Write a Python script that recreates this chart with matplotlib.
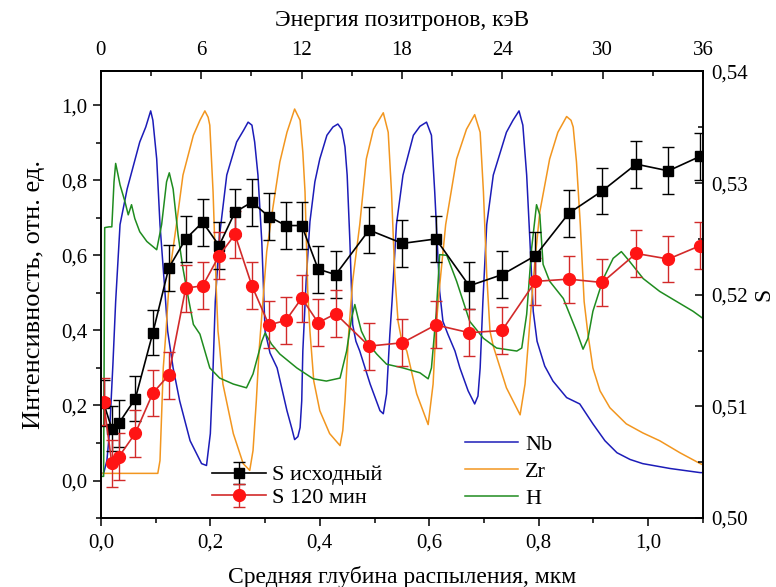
import matplotlib
matplotlib.use("Agg")
import matplotlib.pyplot as plt
from matplotlib.ticker import MultipleLocator, FixedLocator, FuncFormatter

plt.rcParams["font.family"] = ["Liberation Serif", "DejaVu Serif"]

BLUE = "#1c1cb8"
ORANGE = "#f2961f"
GREEN = "#1f8c1f"
RED = "#ff1414"
RED_LINE = "#d22a2a"

# S parameter (right axis) vs mean sputtering depth, um
depth_s = [0.005, 0.020, 0.033, 0.063, 0.095, 0.124, 0.155, 0.186, 0.216, 0.245,
           0.276, 0.307, 0.338, 0.367, 0.397, 0.429, 0.490, 0.551, 0.612, 0.673,
           0.733, 0.794, 0.855, 0.916, 0.978, 1.037, 1.095]
s_init = [0.5103, 0.5080, 0.5085, 0.5107, 0.5166, 0.5224, 0.5250, 0.5265, 0.5244, 0.5274,
          0.5283, 0.5270, 0.5262, 0.5262, 0.5223, 0.5218, 0.5258, 0.5246, 0.5250, 0.5208,
          0.5218, 0.5235, 0.5273, 0.5293, 0.5317, 0.5311, 0.5324]
err_init = [0.0021, 0.0020, 0.0021, 0.0020, 0.0020, 0.0021, 0.0021, 0.0021, 0.0021, 0.0021,
            0.0021, 0.0021, 0.0021, 0.0021, 0.0021, 0.0021, 0.0021, 0.0021, 0.0021, 0.0021,
            0.0021, 0.0021, 0.0021, 0.0021, 0.0021, 0.0021, 0.0021]
s_120 = [0.5104, 0.5049, 0.5055, 0.5076, 0.5112, 0.5128, 0.5206, 0.5208, 0.5235, 0.5254,
         0.5208, 0.5173, 0.5177, 0.5197, 0.5175, 0.5183, 0.5154, 0.5157, 0.5173, 0.5166,
         0.5168, 0.5212, 0.5214, 0.5211, 0.5237, 0.5232, 0.5244]
err_120 = [0.0021, 0.0021, 0.0021, 0.0021, 0.0021, 0.0021, 0.0021, 0.0021, 0.0021, 0.0021,
           0.0021, 0.0021, 0.0021, 0.0021, 0.0021, 0.0021, 0.0021, 0.0021, 0.0021, 0.0021,
           0.0021, 0.0021, 0.0021, 0.0021, 0.0021, 0.0021, 0.0021]

# intensity profiles (left axis)
nb_x = [0.000, 0.005, 0.011, 0.016, 0.022, 0.027, 0.035, 0.048, 0.071, 0.082, 0.091, 0.095,
        0.102, 0.108, 0.117, 0.122, 0.132, 0.144, 0.163, 0.184, 0.193, 0.200, 0.205, 0.209,
        0.217, 0.230, 0.248, 0.261, 0.269, 0.276, 0.281, 0.287, 0.294, 0.300, 0.309, 0.322,
        0.340, 0.349, 0.354, 0.360, 0.364, 0.367, 0.369, 0.375, 0.382, 0.391, 0.400, 0.413,
        0.424, 0.433, 0.440, 0.446, 0.450, 0.455, 0.460, 0.466, 0.473, 0.492, 0.510, 0.516,
        0.522, 0.528, 0.532, 0.540, 0.552, 0.571, 0.583, 0.595, 0.604, 0.610, 0.619, 0.625,
        0.634, 0.647, 0.656, 0.671, 0.683, 0.689, 0.693, 0.698, 0.705, 0.717, 0.741, 0.753,
        0.764, 0.771, 0.778, 0.784, 0.790, 0.797, 0.811, 0.826, 0.851, 0.875, 0.899, 0.921,
        0.943, 0.967, 0.990, 1.040, 1.095, 1.100]
nb_y = [0.019, 0.019, 0.053, 0.133, 0.310, 0.477, 0.682, 0.777, 0.902, 0.942, 0.985, 0.960,
        0.857, 0.682, 0.504, 0.398, 0.300, 0.212, 0.106, 0.045, 0.040, 0.125, 0.300, 0.477,
        0.655, 0.814, 0.902, 0.934, 0.955, 0.947, 0.902, 0.814, 0.637, 0.398, 0.340, 0.300,
        0.186, 0.138, 0.109, 0.117, 0.141, 0.212, 0.345, 0.531, 0.690, 0.796, 0.857, 0.920,
        0.942, 0.950, 0.936, 0.889, 0.814, 0.637, 0.416, 0.371, 0.345, 0.257, 0.186, 0.178,
        0.231, 0.390, 0.477, 0.682, 0.814, 0.920, 0.944, 0.955, 0.920, 0.769, 0.504, 0.424,
        0.390, 0.345, 0.300, 0.239, 0.204, 0.225, 0.300, 0.477, 0.682, 0.814, 0.928, 0.960,
        0.985, 0.947, 0.814, 0.637, 0.451, 0.371, 0.305, 0.265, 0.221, 0.204, 0.151, 0.106,
        0.074, 0.056, 0.045, 0.032, 0.021, 0.021]

zr_x = [0.000, 0.104, 0.108, 0.114, 0.119, 0.126, 0.138, 0.150, 0.169, 0.181, 0.190, 0.196,
        0.199, 0.205, 0.211, 0.214, 0.216, 0.223, 0.242, 0.260, 0.272, 0.278, 0.284, 0.289,
        0.296, 0.303, 0.314, 0.327, 0.340, 0.354, 0.364, 0.369, 0.373, 0.378, 0.382, 0.389,
        0.400, 0.418, 0.437, 0.442, 0.446, 0.453, 0.460, 0.473, 0.485, 0.498, 0.516, 0.525,
        0.531, 0.537, 0.543, 0.550, 0.559, 0.577, 0.598, 0.607, 0.612, 0.618, 0.630, 0.650,
        0.668, 0.683, 0.693, 0.699, 0.705, 0.711, 0.717, 0.741, 0.766, 0.775, 0.784, 0.793,
        0.802, 0.820, 0.835, 0.851, 0.859, 0.863, 0.869, 0.876, 0.883, 0.890, 0.899, 0.912,
        0.930, 0.960, 0.990, 1.021, 1.058, 1.095, 1.100]
zr_y = [0.019, 0.019, 0.053, 0.300, 0.398, 0.557, 0.682, 0.814, 0.920, 0.960, 0.985, 0.968,
        0.947, 0.769, 0.504, 0.398, 0.371, 0.257, 0.125, 0.045, 0.027, 0.080, 0.212, 0.345,
        0.477, 0.610, 0.724, 0.849, 0.928, 0.990, 0.960, 0.875, 0.769, 0.504, 0.398, 0.265,
        0.186, 0.125, 0.093, 0.133, 0.212, 0.398, 0.531, 0.682, 0.857, 0.936, 0.980, 0.928,
        0.769, 0.549, 0.424, 0.371, 0.345, 0.231, 0.149, 0.257, 0.398, 0.504, 0.682, 0.857,
        0.936, 0.975, 0.928, 0.769, 0.549, 0.398, 0.358, 0.247, 0.175, 0.257, 0.424, 0.584,
        0.716, 0.857, 0.928, 0.970, 0.960, 0.942, 0.849, 0.682, 0.477, 0.390, 0.300, 0.239,
        0.194, 0.151, 0.127, 0.106, 0.074, 0.045, 0.042]

h_x = [0.000, 0.005, 0.007, 0.015, 0.020, 0.024, 0.027, 0.031, 0.035, 0.044, 0.050, 0.056,
       0.062, 0.071, 0.084, 0.093, 0.102, 0.111, 0.120, 0.125, 0.132, 0.141, 0.150, 0.160,
       0.169, 0.181, 0.199, 0.217, 0.242, 0.266, 0.278, 0.294, 0.300, 0.312, 0.327, 0.358,
       0.388, 0.412, 0.437, 0.449, 0.458, 0.464, 0.470, 0.476, 0.485, 0.504, 0.522, 0.552,
       0.583, 0.598, 0.604, 0.613, 0.619, 0.632, 0.650, 0.674, 0.699, 0.723, 0.760, 0.769,
       0.778, 0.787, 0.796, 0.802, 0.808, 0.820, 0.845, 0.869, 0.881, 0.890, 0.899, 0.918,
       0.936, 0.951, 0.966, 0.991, 1.021, 1.052, 1.082, 1.100]
h_y = [0.011, 0.011, 0.674, 0.676, 0.676, 0.796, 0.845, 0.817, 0.788, 0.743, 0.708, 0.735,
       0.698, 0.663, 0.637, 0.626, 0.615, 0.682, 0.796, 0.820, 0.777, 0.655, 0.565, 0.485,
       0.416, 0.390, 0.300, 0.273, 0.257, 0.247, 0.284, 0.371, 0.393, 0.363, 0.337, 0.300,
       0.271, 0.265, 0.273, 0.345, 0.432, 0.469, 0.432, 0.398, 0.371, 0.337, 0.310, 0.300,
       0.287, 0.271, 0.300, 0.451, 0.602, 0.600, 0.531, 0.424, 0.379, 0.353, 0.345, 0.353,
       0.443, 0.618, 0.735, 0.708, 0.576, 0.531, 0.485, 0.398, 0.350, 0.379, 0.451, 0.538,
       0.592, 0.610, 0.584, 0.538, 0.504, 0.477, 0.451, 0.432]

energy_ticks = [0, 6, 12, 18, 24, 30, 36]
energy_minor = [3, 9, 15, 21, 27, 33]


def comma(fmt):
    return FuncFormatter(lambda v, p: format(v, fmt).replace(".", ","))


fig = plt.figure(figsize=(7.76, 5.87), dpi=100)
ax = fig.add_axes([0.130, 0.1175, 0.7758, 0.7607])

l_nb, = ax.plot(nb_x, nb_y, color=BLUE, lw=1.1, label="Nb")
l_zr, = ax.plot(zr_x, zr_y, color=ORANGE, lw=1.1, label="Zr")
l_h, = ax.plot(h_x, h_y, color=GREEN, lw=1.1, label="H")

ax.set_xlim(0, 1.1)
ax.set_ylim(-0.1, 1.09)
ax.xaxis.set_major_locator(MultipleLocator(0.2))
ax.xaxis.set_minor_locator(MultipleLocator(0.1))
ax.yaxis.set_major_locator(MultipleLocator(0.2))
ax.yaxis.set_minor_locator(MultipleLocator(0.1))
ax.xaxis.set_major_formatter(comma(".1f"))
ax.yaxis.set_major_formatter(comma(".1f"))
ax.tick_params(which="both", direction="out", top=False, right=False,
               labelsize=15, width=1.1)
ax.tick_params(which="major", length=6)
ax.tick_params(which="minor", length=3.5)
ax.tick_params(axis="x", pad=5)
ax.set_xlabel("Средняя глубина распыления, мкм", fontsize=17, labelpad=10)
ax.set_ylabel("Интенсивность, отн. ед.", fontsize=19, labelpad=12)
for sp in ax.spines.values():
    sp.set_linewidth(1.2)

top = ax.secondary_xaxis("top", functions=(lambda x: x * 36 / 1.1, lambda e: e * 1.1 / 36))
top.xaxis.set_major_locator(FixedLocator(energy_ticks))
top.xaxis.set_minor_locator(FixedLocator(energy_minor))
top.tick_params(which="both", direction="in", labelsize=15, width=1.1, pad=8)
top.tick_params(which="major", length=6)
top.tick_params(which="minor", length=3.5)
top.set_xlabel("Энергия позитронов, кэВ", fontsize=17, labelpad=11)
top.spines["top"].set_linewidth(1.2)

ax2 = ax.twinx()
ax2.errorbar(depth_s, s_init, yerr=err_init, fmt="-s", color="black", ms=7, lw=1.2,
             capsize=4.5, elinewidth=1.0, capthick=1.0, label="S исходный")
ax2.errorbar(depth_s, s_120, yerr=err_120, fmt="-o", color=RED_LINE, mfc=RED, mec=RED,
             ms=8.5, lw=1.2, capsize=4.5, elinewidth=1.0, capthick=1.0, label="S 120 мин")
ax2.set_ylim(0.50, 0.54)
ax2.yaxis.set_major_locator(MultipleLocator(0.01))
ax2.yaxis.set_minor_locator(MultipleLocator(0.005))
ax2.yaxis.set_major_formatter(comma(".2f"))
ax2.tick_params(which="both", direction="in", labelsize=15, width=1.1, pad=6)
ax2.tick_params(which="major", length=6)
ax2.tick_params(which="minor", length=3.5)
ax2.set_ylabel("S", fontsize=17, labelpad=4)
for sp in ax2.spines.values():
    sp.set_linewidth(1.2)

leg1 = ax2.legend(loc="lower left", bbox_to_anchor=(0.185, 0.022), frameon=False,
                  fontsize=16, handlelength=2.4, handletextpad=0.3, labelspacing=0.1,
                  borderpad=0, borderaxespad=0)
ax2.add_artist(leg1)
ax2.legend(handles=[l_nb, l_zr, l_h], loc="lower left", bbox_to_anchor=(0.605, 0.02),
           frameon=False, fontsize=16, handlelength=2.4, handletextpad=0.3,
           labelspacing=0.3, borderpad=0, borderaxespad=0)

fig.savefig("out.png", dpi=100, facecolor="white")
